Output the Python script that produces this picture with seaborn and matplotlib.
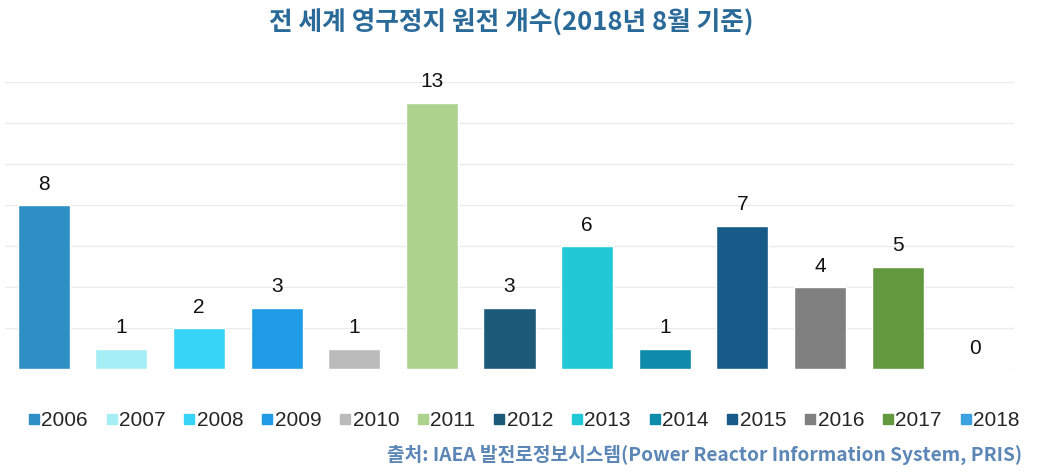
import matplotlib
matplotlib.use("Agg")
import matplotlib.pyplot as plt
import seaborn as sns
import pandas as pd
from matplotlib.lines import Line2D

years = ["2006", "2007", "2008", "2009", "2010", "2011", "2012",
         "2013", "2014", "2015", "2016", "2017", "2018"]
counts = [8, 1, 2, 3, 1, 13, 3, 6, 1, 7, 4, 5, 0]
colors = ["#2e8fc4", "#a6eef5", "#38d4f8", "#1e9be4", "#bbbbbb", "#acd38e",
          "#1d5a78", "#22c8d6", "#0e8aaa", "#175c88", "#808080", "#62993e",
          "#3ba1e0"]
title = "전 세계 영구정지 원전 개수(2018년 8월 기준)"
source = "출처: IAEA 발전로정보시스템(Power Reactor Information System, PRIS)"

sns.set_theme(style="white")
plt.rcParams['font.family'] = ['Liberation Sans', 'Noto Sans CJK KR', 'DejaVu Sans']

df = pd.DataFrame({"year": years, "count": counts})

fig = plt.figure(figsize=(10.47, 4.72), dpi=100)
ax = fig.add_axes([5/1047, 103/472, 1009/1047, (369-82)/472])

sns.barplot(data=df, x="year", y="count", hue="year", palette=colors,
            dodge=False, width=0.67, legend=False, ax=ax, saturation=1)

ax.set_ylim(0, 14)
ax.set_xlim(-0.5, 12.5)
ax.set_yticks(range(0, 15, 2))
ax.yaxis.grid(True, color="#ebebeb", linewidth=1)
ax.set_axisbelow(True)
for s in ax.spines.values():
    s.set_visible(False)
ax.set_xticks([])
ax.set_yticklabels([])
ax.tick_params(left=False, bottom=False)
ax.set_xlabel("")
ax.set_ylabel("")

for c in ax.containers:
    ax.bar_label(c, fmt="%d", padding=8, fontsize=15, color="#111111")

handles = [Line2D([0], [0], marker="s", linestyle="", markersize=7.5,
                  markerfacecolor=col, markeredgecolor=col) for col in colors]
fig.legend(handles, years, loc="center", bbox_to_anchor=(0.5, 1 - 421/472),
           ncol=13, frameon=False, fontsize=15, handletextpad=0.05,
           columnspacing=0.85, handlelength=0.6)

fig.text(0.488, 1 - 22/472, title, ha="center", va="center", fontsize=18.5,
         fontweight="bold", color="#2a6a99",
         family=['Noto Sans CJK KR', 'DejaVu Sans'])
fig.text(1022/1047, 1 - 455/472, source, ha="right", va="center", fontsize=13.8,
         fontweight="bold", color="#5b86b5",
         family=['Noto Sans CJK KR', 'DejaVu Sans'])

fig.savefig("out.png", dpi=100)
